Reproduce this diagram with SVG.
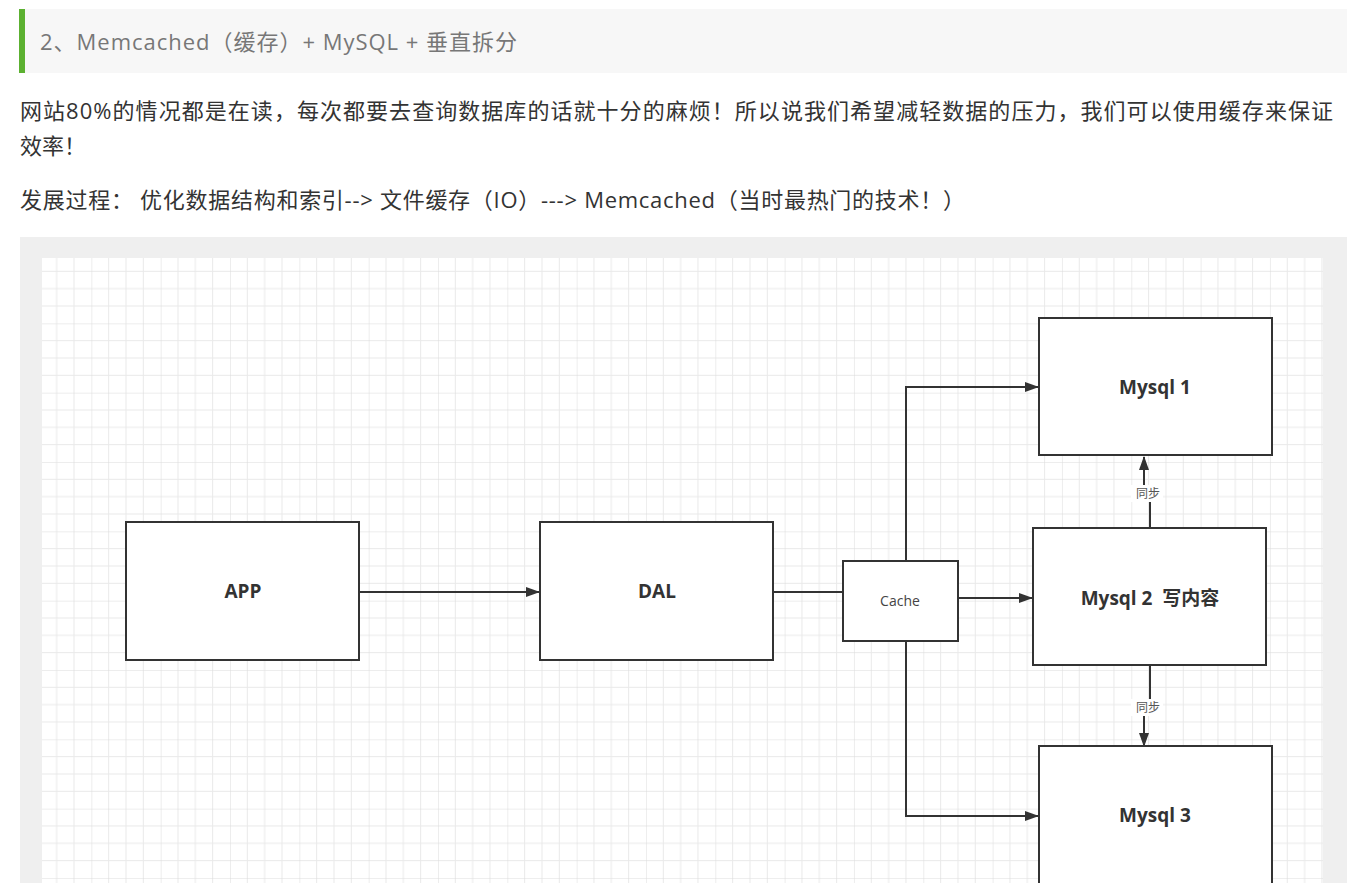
<svg xmlns="http://www.w3.org/2000/svg" width="1347" height="883" viewBox="0 0 1347 883">
<style>
.t{font-family:"Open Sans","Noto Sans CJK SC",sans-serif;}
.h{font-size:22px;fill:#777;}
.p{font-size:22px;fill:#333;}
.box{fill:#fff;stroke:#333;stroke-width:2;}
.lbl{font-family:"Open Sans","Noto Sans CJK SC",sans-serif;font-size:19px;font-weight:bold;fill:#333;text-anchor:middle;white-space:pre;}
.sm{font-family:"Open Sans","Noto Sans CJK SC",sans-serif;font-size:14px;fill:#444;text-anchor:middle;}
.sync{font-family:"Noto Sans CJK SC",sans-serif;font-size:12px;fill:#555;text-anchor:middle;}
.c{fill:none;stroke:#333;stroke-width:2;}
</style>
<defs>
<pattern id="grid" x="22" y="254" width="69.33" height="69.33" patternUnits="userSpaceOnUse">
<path d="M17.33 0V69.33M34.67 0V69.33M52 0V69.33M0 17.33H69.33M0 34.67H69.33M0 52H69.33" stroke="#e9e9e9" stroke-width="1" fill="none"/>
<path d="M0 0V69.33M0 0H69.33" stroke="#dcdcdc" stroke-width="1" fill="none"/>
</pattern>
<marker id="arr" markerWidth="14" markerHeight="12" refX="13" refY="6" orient="auto" markerUnits="userSpaceOnUse">
<path d="M0 1L14 6L0 11Z" fill="#333"/>
</marker>
</defs>
<rect width="1347" height="883" fill="#fff"/>
<!-- header -->
<rect x="19" y="9" width="1328" height="64" fill="#f7f7f7"/>
<rect x="19" y="9" width="6" height="64" fill="#5cb131"/>
<text class="t h" x="40" y="50" textLength="477" lengthAdjust="spacing">2、Memcached（缓存）+ MySQL + 垂直拆分</text>
<text class="t p" x="20" y="119" textLength="1313" lengthAdjust="spacing">网站80%的情况都是在读，每次都要去查询数据库的话就十分的麻烦！所以说我们希望减轻数据的压力，我们可以使用缓存来保证</text>
<text class="t p" x="20" y="154">效率！</text>
<text class="t p" x="20" y="208" textLength="945" lengthAdjust="spacing">发展过程： 优化数据结构和索引--&gt; 文件缓存（IO）---&gt; Memcached（当时最热门的技术！）</text>
<!-- panel -->
<rect x="20" y="237" width="1327" height="646" fill="#efefef"/>
<rect x="42" y="258" width="1281" height="625" fill="#fff"/>
<rect x="42" y="258" width="1281" height="625" fill="url(#grid)"/>
<g id="connectors">
<path class="c" d="M359 592H539" marker-end="url(#arr)"/>
<path class="c" d="M773 592H843"/>
<path class="c" d="M958 598H1032" marker-end="url(#arr)"/>
<path class="c" d="M906 561V387H1038" marker-end="url(#arr)"/>
<path class="c" d="M906 641V816H1038" marker-end="url(#arr)"/>
<path class="c" d="M1150 528V494H1144V457" marker-end="url(#arr)"/>
<path class="c" d="M1150 666V707H1144V746" marker-end="url(#arr)"/>
<rect x="1131" y="485" width="32" height="17" fill="#fff"/>
<text class="sync" x="1148" y="498">同步</text>
<rect x="1131" y="699" width="32" height="17" fill="#fff"/>
<text class="sync" x="1148" y="712">同步</text>
</g>
<g id="app"><rect class="box" x="126" y="522" width="233" height="138"/><text class="lbl" x="243" y="598">APP</text></g>
<g id="dal"><rect class="box" x="540" y="522" width="233" height="138"/><text class="lbl" x="657" y="598">DAL</text></g>
<g id="cache"><rect class="box" x="843" y="561" width="115" height="80"/><text class="sm" x="900" y="606">Cache</text></g>
<g id="mysql1"><rect class="box" x="1039" y="318" width="233" height="137"/><text class="lbl" x="1155" y="394">Mysql 1</text></g>
<g id="mysql2"><rect class="box" x="1033" y="528" width="233" height="137"/><text class="lbl" x="1150" y="605" xml:space="preserve">Mysql 2  写内容</text></g>
<g id="mysql3"><rect class="box" x="1039" y="746" width="233" height="150"/><text class="lbl" x="1155" y="822">Mysql 3</text></g>
</svg>
